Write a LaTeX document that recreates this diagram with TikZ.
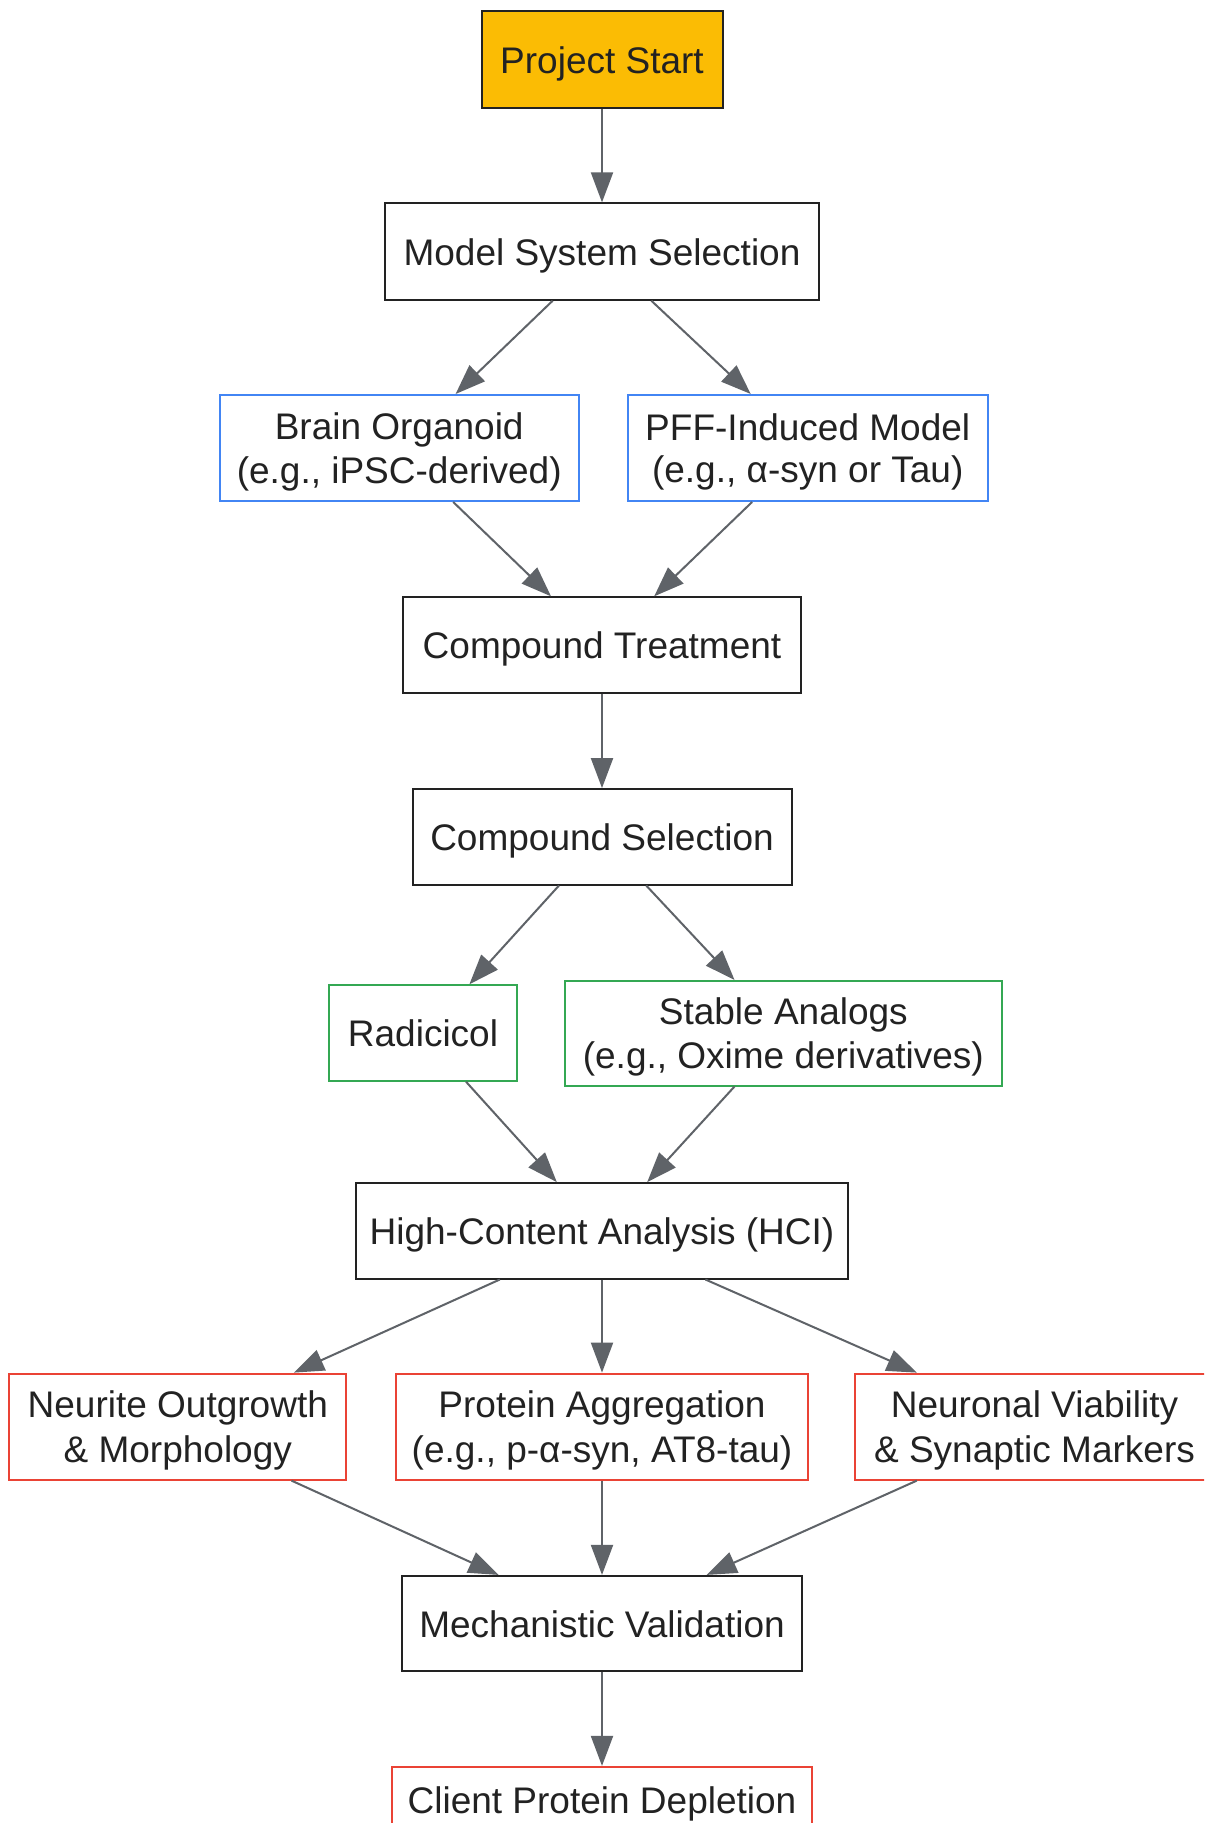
\documentclass[tikz,border=0pt]{standalone}
\usepackage{fontspec}
\setmainfont{Liberation Sans}
\usetikzlibrary{arrows.meta}
\definecolor{txt}{HTML}{222222}
\definecolor{edgec}{HTML}{5F6368}
\definecolor{yel}{HTML}{FBBC04}
\definecolor{blu}{HTML}{4285F4}
\definecolor{grn}{HTML}{34A853}
\definecolor{rd}{HTML}{EA4335}
\definecolor{bdr}{HTML}{222222}
\newcommand{\mystrut}{\rule[-3.55pt]{0pt}{20.9pt}}
\begin{document}
\begin{tikzpicture}[x=0.5pt,y=-0.5pt,
  box/.style={draw=bdr, line width=1pt, inner sep=0pt, align=center, text=txt,
    font=\fontsize{18.5}{20.9}\selectfont, fill=white},
  startbox/.style={box, fill=yel},
  bluebox/.style={box, draw=blu},
  greenbox/.style={box, draw=grn},
  redbox/.style={box, draw=rd},
  arr/.style={draw=edgec, line width=1pt, -{Triangle[length=15pt,width=11pt]}}
]
\clip (0,0) rectangle (1204,1823);
\fill[white] (0,0) rectangle (1204,1823);

\node[startbox, minimum width=120.5pt, minimum height=48.5pt] (start) at (602,59.5) {\mystrut Project Start};
\node[box, minimum width=216.8pt, minimum height=48.2pt] (model) at (602,251.6) {\mystrut Model System Selection};
\node[bluebox, minimum width=179.5pt, minimum height=53pt] (brain) at (399.2,448) {\mystrut Brain Organoid\\\mystrut (e.g., iPSC-derived)};
\node[bluebox, minimum width=180pt, minimum height=53pt] (pff) at (807.7,448) {\mystrut PFF-Induced Model\\\mystrut (e.g., α-syn or Tau)};
\node[box, minimum width=198.8pt, minimum height=47.7pt] (ct) at (602,645) {\mystrut Compound Treatment};
\node[box, minimum width=189.5pt, minimum height=47.7pt] (cs) at (602,836.8) {\mystrut Compound Selection};
\node[greenbox, minimum width=94pt, minimum height=47.7pt] (rad) at (423,1033) {\mystrut Radicicol};
\node[greenbox, minimum width=218.5pt, minimum height=52.3pt] (stable) at (783.3,1033.2) {\mystrut Stable Analogs\\\mystrut (e.g., Oxime derivatives)};
\node[box, minimum width=246.4pt, minimum height=47.7pt] (hci) at (602,1230.8) {\mystrut High-Content Analysis (HCI)};
\node[redbox, minimum width=168.5pt, minimum height=53pt] (neurite) at (177.8,1426.6) {\mystrut Neurite Outgrowth\\\mystrut \& Morphology};
\node[redbox, minimum width=206.3pt, minimum height=53pt] (protein) at (602,1426.6) {\mystrut Protein Aggregation\\\mystrut (e.g., p-α-syn, AT8-tau)};
\node[redbox, minimum width=179.5pt, minimum height=53pt] (neuronal) at (1034.5,1426.6) {\mystrut Neuronal Viability\\\mystrut \& Synaptic Markers};
\node[box, minimum width=200pt, minimum height=47.7pt] (mech) at (602,1623.6) {\mystrut Mechanistic Validation};
\node[redbox, minimum width=210.4pt, minimum height=33.5pt] (client) at (602,1800.4) {\mystrut Client Protein Depletion};

\draw[arr] (start.south) -- (model.north);
\draw[arr] ([xshift=-24.7pt]model.south) -- ([xshift=28.2pt]brain.north);
\draw[arr] ([xshift=24.7pt]model.south) -- ([xshift=-28.5pt]pff.north);
\draw[arr] ([xshift=27pt]brain.south) -- ([xshift=-25.5pt]ct.north);
\draw[arr] ([xshift=-27.8pt]pff.south) -- ([xshift=26.1pt]ct.north);
\draw[arr] (ct.south) -- (cs.north);
\draw[arr] ([xshift=-21.5pt]cs.south) -- ([xshift=23.2pt]rad.north);
\draw[arr] ([xshift=22.1pt]cs.south) -- ([xshift=-24.4pt]stable.north);
\draw[arr] ([xshift=21.5pt]rad.south) -- ([xshift=-22.6pt]hci.north);
\draw[arr] ([xshift=-24.4pt]stable.south) -- ([xshift=22.6pt]hci.north);
\draw[arr] ([xshift=-51.1pt]hci.south) -- ([xshift=-26.7pt]neurite.north east);
\draw[arr] (hci.south) -- (protein.north);
\draw[arr] ([xshift=51.7pt]hci.south) -- ([xshift=31.4pt]neuronal.north west);
\draw[arr] ([xshift=-27.9pt]neurite.south east) -- ([xshift=-51.7pt]mech.north);
\draw[arr] (protein.south) -- (mech.north);
\draw[arr] ([xshift=31.4pt]neuronal.south west) -- ([xshift=52.3pt]mech.north);
\draw[arr] (mech.south) -- (client.north);
\end{tikzpicture}
\end{document}
